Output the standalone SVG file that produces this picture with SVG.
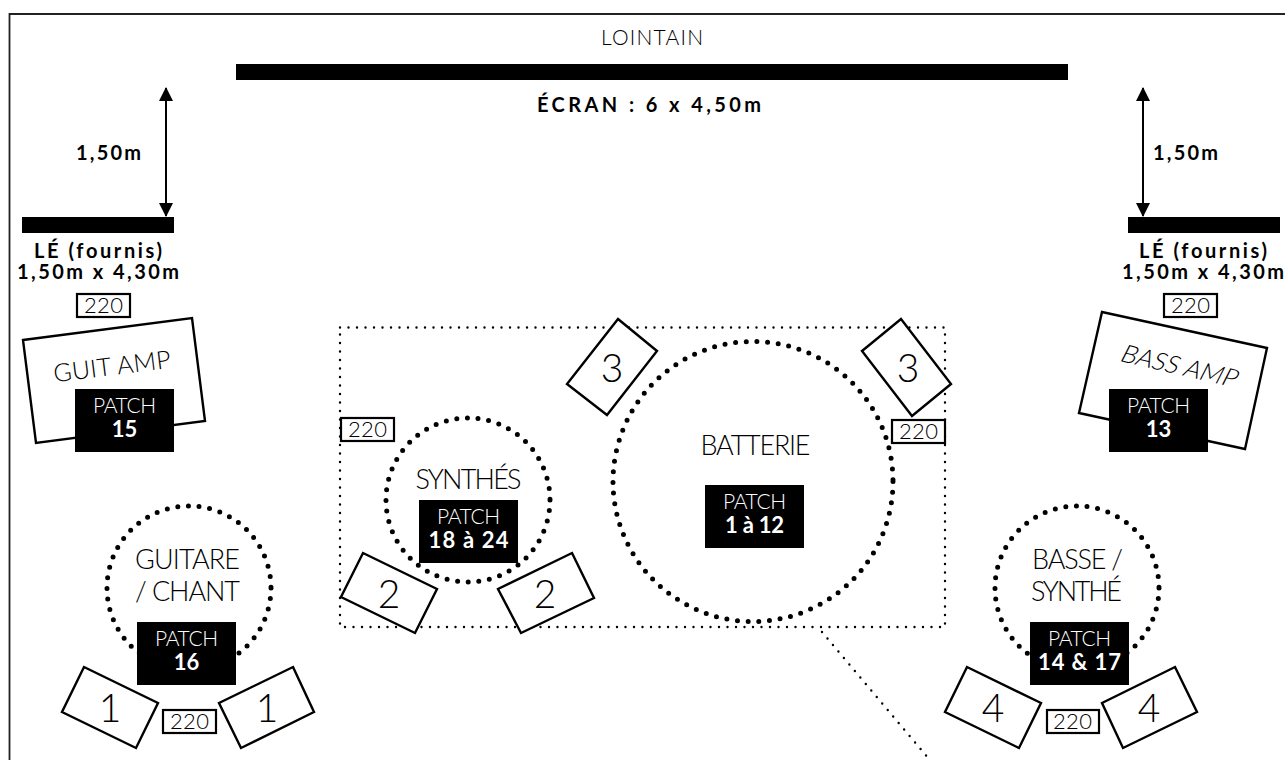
<svg xmlns="http://www.w3.org/2000/svg" width="1285" height="760" viewBox="0 0 1285 760">
<style>
text{font-family:"Lato","Liberation Sans",sans-serif;text-anchor:middle}
.l{font-weight:300;fill:#000}
.b{font-weight:700;fill:#000;font-size:20px}
.bar{fill:#000}
.sp{fill:#fff;stroke:#000;stroke-width:2.4}
.n{font-weight:300;font-size:39px;fill:#000}
.lab{font-weight:300;font-size:27px;fill:#000}
.pb{fill:#000}
.pt{font-weight:300;font-size:21px;fill:#fff}
.pn{font-weight:700;font-size:22px;fill:#fff}
.s{fill:#fff;stroke:#000;stroke-width:2.2}
.st{font-weight:300;font-size:22px;fill:#000}
.ring{fill:none;stroke:#000;stroke-width:5;stroke-linecap:round;stroke-dasharray:0 10.7}
.dot{fill:none;stroke:#000;stroke-width:2.4;stroke-linecap:round;stroke-dasharray:0 8.5}
.arr{fill:none;stroke:#000;stroke-width:2;marker-start:url(#ah);marker-end:url(#ah)}
</style>
<defs>
<marker id="ah" markerUnits="userSpaceOnUse" markerWidth="15" markerHeight="14" refX="13" refY="7" orient="auto-start-reverse"><path d="M0 0L14 7L0 14Z" fill="#000"/></marker>
</defs>
<rect width="1285" height="760" fill="#fff"/>
<path id="frame" d="M9.500 760V14H1285" fill="none" stroke="#222" stroke-width="1.800"/>

<g id="connectors">
<path class="dot" d="M822 632L929 759"/>
<path class="arr" d="M166 88V216"/>
<path class="arr" d="M1143 88V216"/>
</g>

<g id="lointain"><text class="l" x="652" y="45" font-size="21" textLength="102">LOINTAIN</text></g>
<g id="ecran"><rect class="bar" x="236" y="64" width="832" height="16"/><text class="b" x="649" y="112" textLength="224">ÉCRAN : 6 x 4,50m</text></g>
<g id="dim-left"><text class="b" x="108.500" y="160" textLength="65">1,50m</text></g>
<g id="dim-right"><text class="b" x="1185.500" y="160" textLength="65">1,50m</text></g>
<g id="le-left"><rect class="bar" x="22" y="217" width="152" height="16"/><text class="b" x="98" y="258" textLength="128">LÉ (fournis)</text><text class="b" x="98" y="279" textLength="162">1,50m x 4,30m</text></g>
<g id="le-right"><rect class="bar" x="1128" y="217" width="152" height="16"/><text class="b" x="1203" y="258" textLength="128">LÉ (fournis)</text><text class="b" x="1203" y="279" textLength="162">1,50m x 4,30m</text></g>

<g id="zone"><path class="dot" d="M340 327.500H945V627H340Z"/></g>

<g id="p220-1"><rect class="s" x="77" y="294" width="53" height="23"/><text class="st" x="103.500" y="313" textLength="39">220</text></g>
<g id="p220-2"><rect class="s" x="1164" y="294" width="53" height="23"/><text class="st" x="1190.500" y="313" textLength="39">220</text></g>

<g id="guit-amp"><path class="sp" d="M23 340L192 318L205 421L36 443Z"/><text class="l" font-size="25" transform="translate(113 375) rotate(-7)" textLength="118">GUIT AMP</text><rect class="pb" x="75" y="389" width="99" height="63"/><text class="pt" x="124.500" y="413" textLength="63">PATCH</text><text class="pn" x="124.500" y="437">15</text></g>
<g id="bass-amp"><path class="sp" d="M1102 312L1267 348L1245 449L1079 413Z"/><text class="l" font-size="25" transform="translate(1176 374) rotate(13) skewX(-14)" textLength="118">BASS AMP</text><rect class="pb" x="1109" y="389" width="99" height="63"/><text class="pt" x="1158.500" y="413" textLength="63">PATCH</text><text class="pn" x="1158.500" y="437">13</text></g>

<g id="p220-3"><rect class="s" x="341" y="418" width="53" height="23"/><text class="st" x="367.500" y="437" textLength="39">220</text></g>

<g id="synthes"><circle class="ring" cx="468" cy="500" r="82"/><text class="lab" x="468.500" y="489" textLength="106">SYNTHÉS</text><rect class="pb" x="419" y="500" width="99" height="63"/><text class="pt" x="468.500" y="524" textLength="63">PATCH</text><text class="pn" x="468.500" y="548" textLength="80">18 à 24</text></g>
<g id="sp2-l"><path class="sp" d="M363 553L437 589L415 633L341 597Z"/><text class="n" x="389" y="608">2</text></g>
<g id="sp2-r"><path class="sp" d="M572 553L594 598L521 633L498 589Z"/><text class="n" x="545" y="608">2</text></g>

<g id="batterie"><circle class="ring" cx="753" cy="481.500" r="140"/><text class="lab" x="755.500" y="455" textLength="110">BATTERIE</text><rect class="pb" x="705" y="485" width="99" height="63"/><text class="pt" x="754.500" y="509" textLength="63">PATCH</text><text class="pn" x="754.500" y="533" textLength="59">1 à 12</text></g>
<g id="sp3-l"><path class="sp" d="M618 319L657 351L607 415L567 384Z"/><text class="n" x="612" y="382">3</text></g>
<g id="sp3-r"><path class="sp" d="M901 319L951 384L912 416L862 351Z"/><text class="n" x="908" y="382">3</text></g>
<g id="p220-4"><rect class="s" x="892" y="420" width="53" height="23"/><text class="st" x="918.500" y="439" textLength="39">220</text></g>

<g id="guitare"><circle class="ring" cx="189" cy="588" r="82"/><text class="lab" x="187.500" y="569" textLength="105">GUITARE</text><text class="lab" x="187.500" y="601" textLength="105">/ CHANT</text><rect class="pb" x="137" y="622" width="99" height="63"/><text class="pt" x="186.500" y="646" textLength="63">PATCH</text><text class="pn" x="186.500" y="670">16</text></g>
<g id="sp1-l"><path class="sp" d="M84 667L158 703L136 748L62 712Z"/><text class="n" x="110" y="722">1</text></g>
<g id="sp1-r"><path class="sp" d="M293 667L314 712L241 748L219 703Z"/><text class="n" x="267" y="722">1</text></g>
<g id="p220-5"><rect class="s" x="163" y="710" width="53" height="23"/><text class="st" x="189.500" y="729" textLength="39">220</text></g>

<g id="basse"><circle class="ring" cx="1077" cy="588" r="82"/><text class="lab" x="1077.500" y="569" textLength="91">BASSE /</text><text class="lab" x="1076.500" y="601" textLength="91">SYNTHÉ</text><rect class="pb" x="1030" y="622" width="99" height="63"/><text class="pt" x="1079.500" y="646" textLength="63">PATCH</text><text class="pn" x="1079.500" y="670" textLength="83">14 &amp; 17</text></g>
<g id="sp4-l"><path class="sp" d="M967 667L1041 703L1019 748L945 712Z"/><text class="n" x="993" y="722">4</text></g>
<g id="sp4-r"><path class="sp" d="M1175 667L1197 712L1123 748L1102 703Z"/><text class="n" x="1149" y="722">4</text></g>
<g id="p220-6"><rect class="s" x="1047" y="710" width="52" height="23"/><text class="st" x="1072.500" y="729" textLength="39">220</text></g>
</svg>
